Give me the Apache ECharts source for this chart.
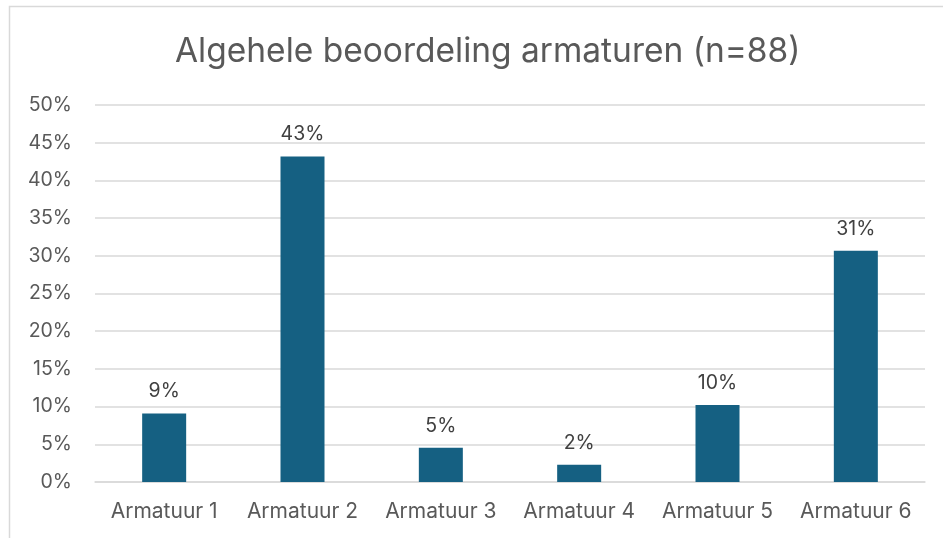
<!DOCTYPE html>
<html>
<head>
<meta charset="utf-8">
<style>
  html, body { margin: 0; padding: 0; background: #fff; }
  #chart { width: 943px; height: 538px; }
</style>
<script src="https://cdn.jsdelivr.net/npm/echarts@6/dist/echarts.min.js"></script>
</head>
<body>
<div id="chart"></div>
<script>
// aantallen per armatuur, n = 88
const categories = ['Armatuur 1', 'Armatuur 2', 'Armatuur 3', 'Armatuur 4', 'Armatuur 5', 'Armatuur 6']
const counts = [8, 38, 4, 2, 9, 27]
const total = 88
const shares = counts.map(c => c / total)

const chart = echarts.init(document.getElementById('chart'))
const font = 'Inter, "Noto Sans", sans-serif'

chart.setOption({
  animation: false,
  graphic: [{
    type: 'rect',
    shape: { x: 9.5, y: 6.5, width: 960, height: 560 },
    style: { fill: 'none', stroke: '#d9d9d9', lineWidth: 1.5 },
    silent: true
  }],
  title: {
    text: 'Algehele beoordeling armaturen (n=88)',
    left: 170,
    top: 30,
    textStyle: {
      fontFamily: font,
      fontWeight: 'normal',
      fontSize: 33.5,
      color: '#595959'
    }
  },
  grid: {
    left: 95,
    right: 18,
    top: 105,
    bottom: 56
  },
  xAxis: {
    type: 'category',
    data: categories,
    axisLine: { lineStyle: { color: '#d9d9d9', width: 1.5 } },
    axisTick: { show: false },
    axisLabel: {
      interval: 0,
      hideOverlap: false,
      margin: 19,
      fontFamily: font,
      fontSize: 21,
      color: '#595959'
    }
  },
  yAxis: {
    type: 'value',
    min: 0,
    max: 0.5,
    interval: 0.05,
    axisLine: { show: false },
    axisTick: { show: false },
    splitLine: { lineStyle: { color: '#d9d9d9', width: 1.5 } },
    axisLabel: {
      margin: 23,
      fontFamily: font,
      fontSize: 19.5,
      color: '#595959',
      formatter: v => Math.round(v * 100) + '%'
    }
  },
  series: [{
    type: 'bar',
    data: shares,
    barWidth: 44,
    itemStyle: { color: '#156082' },
    label: {
      show: true,
      position: 'top',
      distance: 12,
      fontFamily: font,
      fontSize: 19.5,
      color: '#404040',
      formatter: p => Math.round(p.value * 100) + '%'
    }
  }]
})
</script>
</body>
</html>
